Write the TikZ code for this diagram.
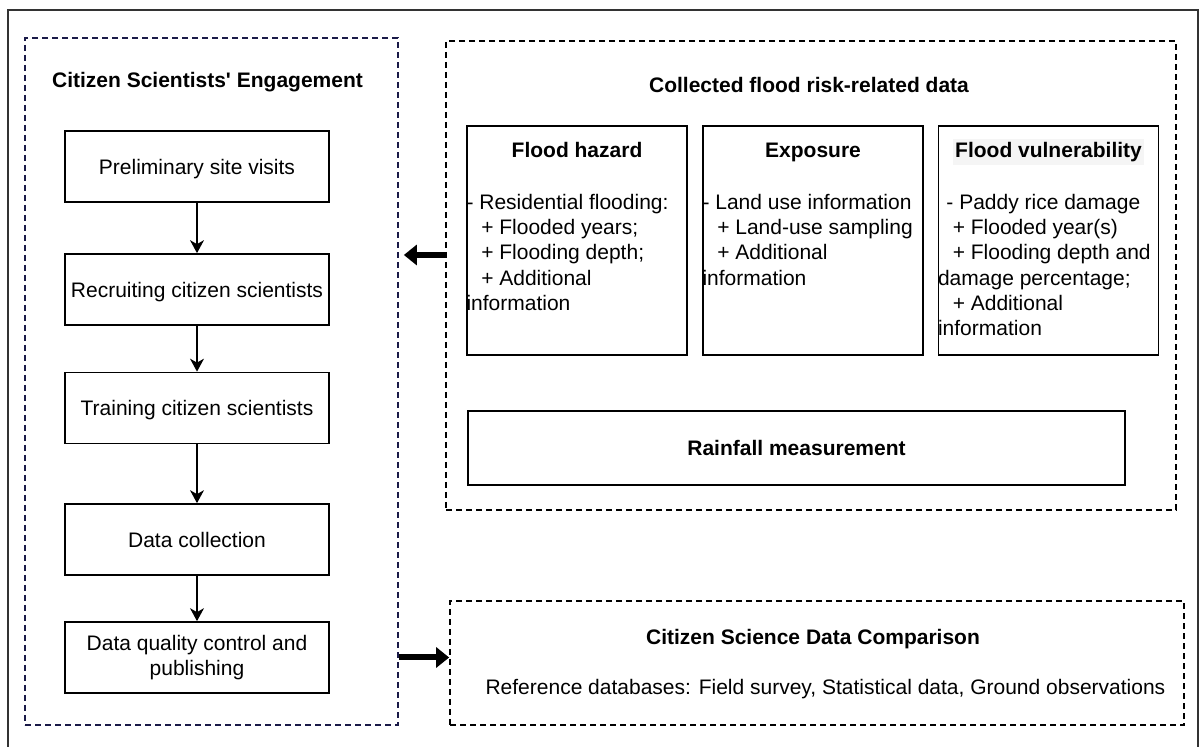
\documentclass[tikz,border=0pt]{standalone}
\usepackage{fontspec}
\setmainfont{Liberation Sans}
\usetikzlibrary{arrows.meta,positioning}
\definecolor{navy}{RGB}{26,26,72}
\definecolor{framegray}{RGB}{51,51,51}

\begin{document}
\begin{tikzpicture}[x=.5pt,y=-.5pt,% one unit is half a point, y runs downwards
			every node/.style={
				font=\fontsize{10.5pt}{12.65pt}\selectfont,
				inner sep=0pt
			},
			stepbox/.style={rectangle,draw,line width=.85pt,minimum width=132pt,minimum height=35.5pt,align=center},
			oneline/.style={text height=.9em,text depth=.1em},	% keeps single lines centred on the caps
			datbox/.style={rectangle,draw,line width=.85pt,minimum width=110pt,minimum height=114.5pt},
			groupbox/.style={rectangle,draw,line width=.85pt,dash pattern=on 3pt off 2pt},
			heading/.style={font=\fontsize{10.5pt}{12.65pt}\selectfont\bfseries,anchor=base},
			bodytext/.style={align=left,anchor=base west},	% base = last line of the list
			every edge/.style={draw,line width=.65pt,-{Stealth[length=6.5pt,width=7pt,inset=2pt]}},
			bigarrow/.style={draw,line width=3pt,-{Triangle[length=6.5pt,width=10pt]}}
		]
		\useasboundingbox (0,0) rectangle (1199,747);
		% outer frame, open at the bottom
		\draw[framegray,line width=1pt] (7.5,747) -- (7.5,10) -- (1197.5,10) -- (1197.5,747);

		% the three dashed groups
		\node[groupbox,draw=navy,minimum width=186.5pt,minimum height=343.5pt](engage) at (211.5,381.5) {};
		\node[groupbox,minimum width=365pt,minimum height=234.5pt](collect) at (811,275.5) {};
		\node[groupbox,minimum width=367pt,minimum height=62pt](compare) at (817,663) {};

		\node[heading](engagetitle) at ([xshift=-2pt,yshift=-25pt]engage.north) {Citizen Scientists\textquotesingle{} Engagement};
		\node[heading](collecttitle) at ([xshift=-1pt,yshift=-26pt]collect.north) {Collected flood risk-related data};

		% engagement steps
		\node[stepbox,oneline](visit) at (197,166.5) {Preliminary site visits};
		\node[stepbox,oneline](recruit) at (197,289.5) {Recruiting citizen scientists};
		\node[stepbox,oneline](train) at (197,408) {Training citizen scientists};
		\node[stepbox,oneline](collection) at (197,539.5) {Data collection};
		\node[stepbox](quality) at (197,657.5) {Data quality control and\\ publishing};
		\path
		(visit)edge (recruit)
		(recruit)edge (train)
		(train)edge (collection)
		(collection)edge (quality)
		;

		% flood risk data
		\node[datbox](hazard) at (577,240.5) {};
		\node[datbox](exposure) at (813,240.5) {};
		\node[datbox](vulner) at (1048.5,240.5) {};
		\node[heading](hazardtitle) at ([yshift=-16pt]hazard.north) {Flood hazard};
		\node[heading](exposuretitle) at ([yshift=-16pt]exposure.north) {Exposure};
		\node[heading,fill=black!4,inner xsep=1pt,inner ysep=1.5pt](vulnertitle) at ([yshift=-16pt]vulner.north) {Flood vulnerability};
		\node[bodytext](hazardlist) at ([yshift=-92.6pt]hazard.north west) {- Residential flooding:\\ \hspace*{.7em}+ Flooded years;\\ \hspace*{.7em}+ Flooding depth;\\ \hspace*{.7em}+ Additional\\ information};
		\node[bodytext](exposurelist) at ([yshift=-80pt]exposure.north west) {- Land use information\\ \hspace*{.7em}+ Land-use sampling\\ \hspace*{.7em}+ Additional\\ information};
		\node[bodytext](vulnerlist) at ([yshift=-105.3pt]vulner.north west) {\hspace*{.4em}- Paddy rice damage\\ \hspace*{.7em}+ Flooded year(s)\\ \hspace*{.7em}+ Flooding depth and\\ damage percentage;\\ \hspace*{.7em}+ Additional\\ information};
		\node[rectangle,draw,line width=.85pt,minimum width=328.5pt,minimum height=37pt,oneline,font=\fontsize{10.5pt}{12.65pt}\selectfont\bfseries](rain) at (796.5,448) {Rainfall measurement};

		% comparison
		\node[heading](comparetitle) at ([xshift=-2pt,yshift=-22pt]compare.north) {Citizen Science Data Comparison};
		\node[bodytext](comparelist) at ([xshift=18pt,yshift=-47pt]compare.north west) {Reference databases: Field survey, Statistical data, Ground observations};

		% links between the groups
		\coordinate (feedback) at (0,255);
		\draw[bigarrow,shorten >=2.5pt] (collect.west |- feedback) -- (engage.east |- feedback);
		\draw[bigarrow] (engage.east |- quality) -- (compare.west |- quality);
	\end{tikzpicture}
\end{document}
